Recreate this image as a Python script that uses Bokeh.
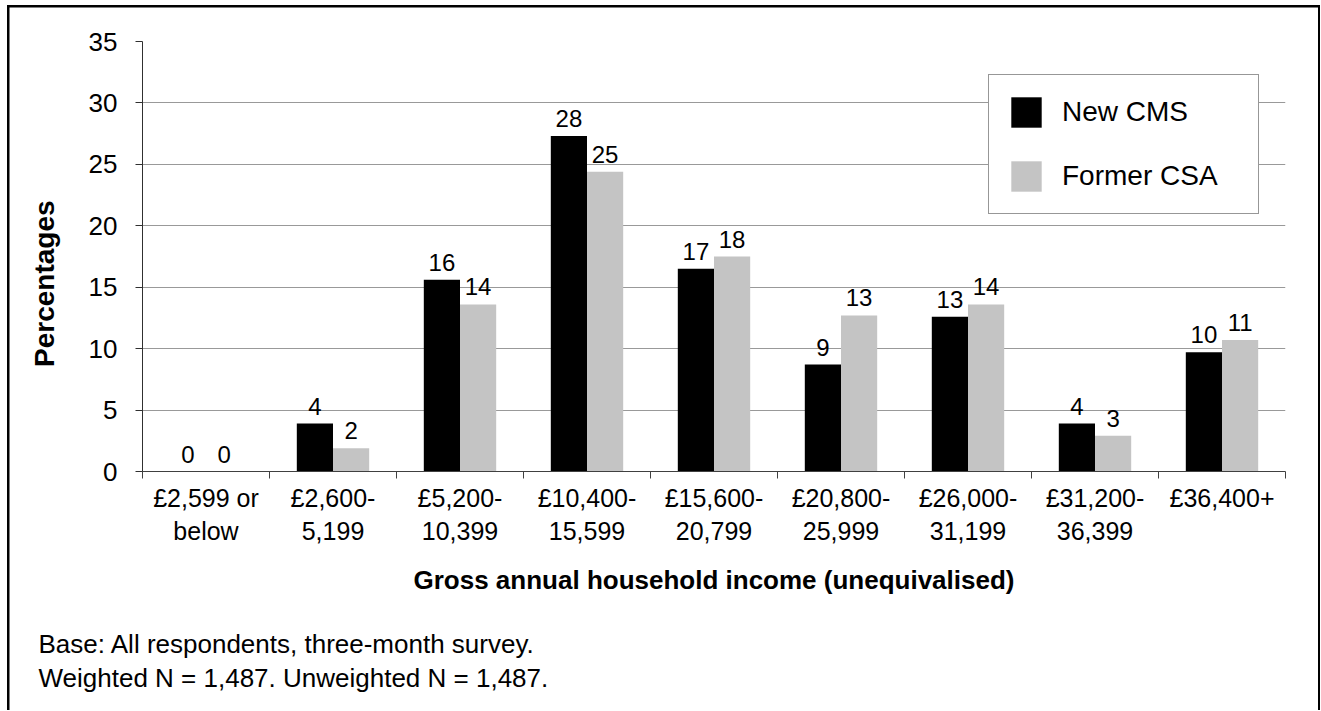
from bokeh.plotting import figure
from bokeh.models import (Range1d, FixedTicker, Legend, LegendItem, ColumnDataSource,
                          LabelSet, Title)
from bokeh.core.properties import value
from bokeh.embed import file_html
from bokeh.resources import INLINE

# ---- data ----
categories = ["£2,599 or\nbelow", "£2,600-\n5,199", "£5,200-\n10,399", "£10,400-\n15,599",
              "£15,600-\n20,799", "£20,800-\n25,999", "£26,000-\n31,199", "£31,200-\n36,399",
              "£36,400+"]
new_cms = [0, 3.9, 15.6, 27.3, 16.5, 8.7, 12.6, 3.9, 9.7]
former_csa = [0, 1.9, 13.6, 24.4, 17.5, 12.7, 13.6, 2.9, 10.7]
new_cms_labels = ["0", "4", "16", "28", "17", "9", "13", "4", "10"]
former_csa_labels = ["0", "2", "14", "25", "18", "13", "14", "3", "11"]
series_names = ["New CMS", "Former CSA"]
y_ticks = [0, 5, 10, 15, 20, 25, 30, 35]
x_title = "Gross annual household income (unequivalised)"
y_title = "Percentages"
footer = ["Base: All respondents, three-month survey.",
          "Weighted N = 1,487. Unweighted N = 1,487."]

FONT = "Liberation Sans"
BLACK = "#000000"
GREY = "#C4C4C4"

W, H = 1320, 710
FX0, FX1, FY0, FY1 = 142, 1285, 41, 471   # plot frame in canvas pixels
YMAX = 35
n = len(categories)

centers = [i + 0.5 for i in range(n)]
bw = 0.285

src = ColumnDataSource(dict(
    xn=[c - bw / 2 for c in centers], xf=[c + bw / 2 for c in centers],
    yn=new_cms, yf=former_csa, ln=new_cms_labels, lf=former_csa_labels))

p = figure(width=W, height=H, output_backend="svg", toolbar_location=None,
           x_range=Range1d(0, n), y_range=Range1d(0, YMAX),
           min_border_left=FX0, min_border_right=W - FX1, min_border_top=FY0,
           min_border_bottom=H - FY1)
p.outline_line_color = None
p.background_fill_color = "white"
p.border_fill_color = None
# outer frame lines drawn as the page element's background (visible through the transparent border)
p.styles = {
    "background": ("linear-gradient(#000,#000) 7px 5px / 2.5px 900px no-repeat, "
                   "linear-gradient(#000,#000) 7px 5px / 1400px 2.5px no-repeat, "
                   "linear-gradient(#000,#000) 1317.5px 5px / 2.5px 900px no-repeat, "
                   "#ffffff"),
}

r1 = p.vbar(x="xn", top="yn", width=bw, bottom=0, source=src, fill_color=BLACK, line_color=None)
r2 = p.vbar(x="xf", top="yf", width=bw, bottom=0, source=src, fill_color=GREY, line_color=None)

for xcol, ycol, lcol in (("xn", "yn", "ln"), ("xf", "yf", "lf")):
    p.add_layout(LabelSet(x=xcol, y=ycol, text=lcol, source=src, text_align="center",
                          text_baseline="alphabetic", y_offset=9, text_font=value(FONT),
                          text_font_size=value("24px"), text_color=value("black")))

# axes
xa = p.xaxis[0]
xa.ticker = FixedTicker(ticks=centers, minor_ticks=list(range(n + 1)))
xa.major_label_overrides = {c: lab for c, lab in zip(centers, categories)}
xa.major_tick_in = 0
xa.major_tick_out = 0
xa.minor_tick_in = 0
xa.minor_tick_out = 7
xa.axis_line_color = "#404040"
xa.minor_tick_line_color = "#404040"
xa.major_label_text_font = FONT
xa.major_label_text_font_size = "25px"
xa.major_label_text_color = "black"
xa.major_label_text_line_height = 1.2
xa.major_label_standoff = 5
xa.axis_label = x_title
xa.axis_label_text_font = FONT
xa.axis_label_text_font_size = "26px"
xa.axis_label_text_font_style = "bold"
xa.axis_label_text_color = "black"
xa.axis_label_standoff = 17

ya = p.yaxis[0]
ya.ticker = FixedTicker(ticks=y_ticks, minor_ticks=[])
ya.major_tick_in = 0
ya.major_tick_out = 7
ya.axis_line_color = "#303030"
ya.major_tick_line_color = "#303030"
ya.major_label_text_font = FONT
ya.major_label_text_font_size = "26px"
ya.major_label_text_color = "black"
ya.major_label_standoff = 18
# trailing no-break spaces move the centred title down to where the reference has it
ya.axis_label = y_title + "\u00a0" * 7
ya.axis_label_text_font = FONT
ya.axis_label_text_font_size = "28px"
ya.axis_label_text_font_style = "bold"
ya.axis_label_text_color = "black"
ya.axis_label_standoff = 26

p.xgrid.visible = False
p.ygrid.grid_line_color = "#999999"
p.ygrid.grid_line_width = 1

# legend
legend = Legend(items=[LegendItem(label=series_names[0], renderers=[r1]),
                       LegendItem(label=series_names[1], renderers=[r2])],
                location=(846, 257), orientation="vertical")
legend.glyph_width = 38
legend.glyph_height = 38
legend.label_height = 38
legend.label_width = 178
legend.label_standoff = 17
legend.spacing = 26
legend.padding = 18
legend.margin = 0
legend.label_text_font = FONT
legend.label_text_font_size = "28px"
legend.label_text_color = "black"
legend.border_line_color = "#303030"
legend.border_line_width = 1.5
legend.background_fill_alpha = 1
p.add_layout(legend, "center")

# spacer between the axis title and the footer note
p.add_layout(Title(text=" ", standoff=21, text_font_size="1px"), "below")
# footer note
p.add_layout(Title(text="\n".join(footer), align="left", offset=38 - FX0, standoff=10,
                   text_font=FONT, text_font_size="26px", text_font_style="normal",
                   text_color="black", text_line_height=1.14), "below")

open("out.html", "w").write(file_html(p, INLINE))
